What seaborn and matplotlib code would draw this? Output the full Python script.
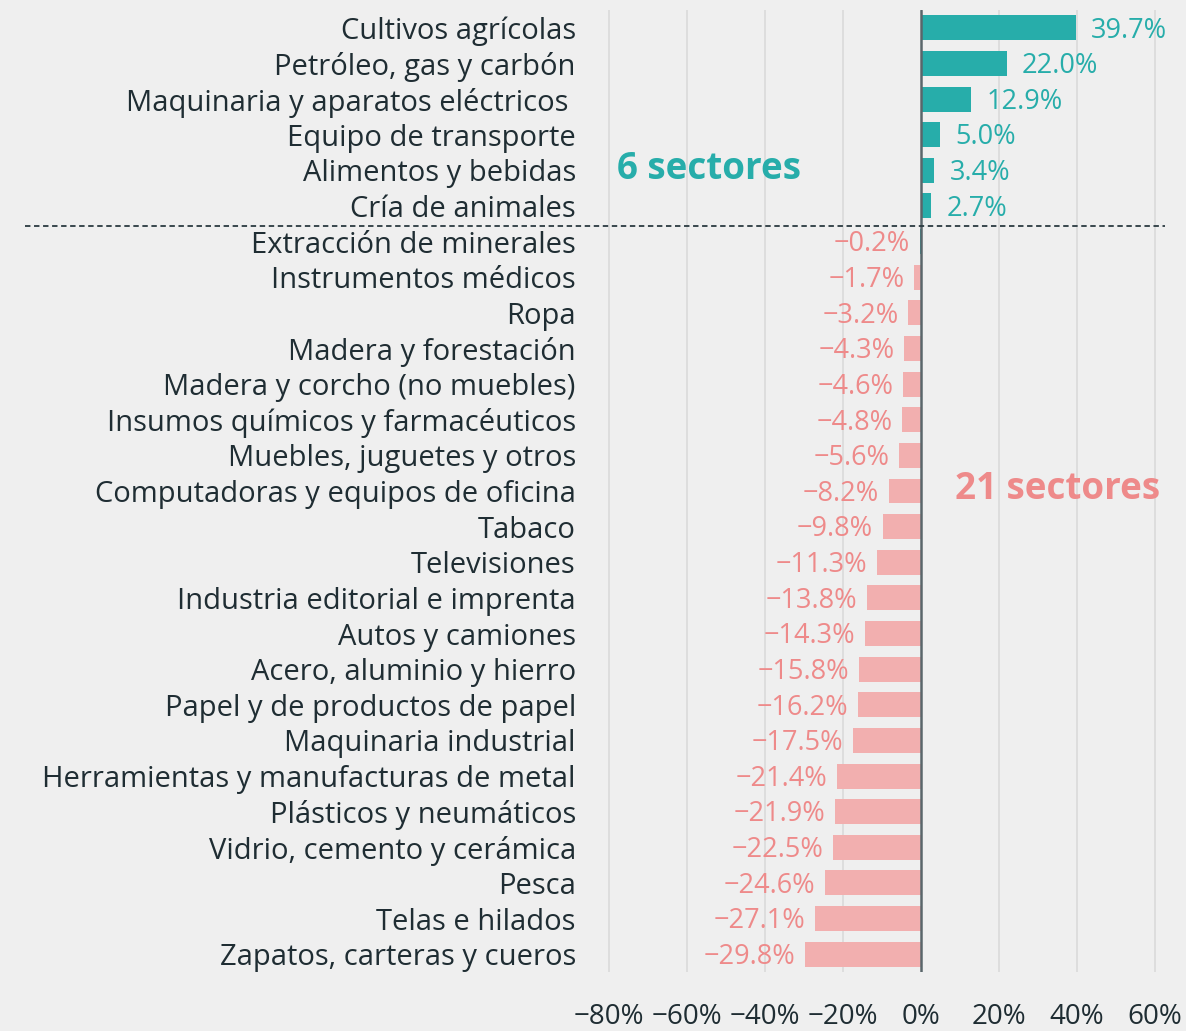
import matplotlib
matplotlib.use("Agg")
import matplotlib.pyplot as plt
import matplotlib.transforms as mtransforms
from matplotlib.lines import Line2D
import seaborn as sns
import pandas as pd

categories = [
    "Cultivos agrícolas", "Petróleo, gas y carbón", "Maquinaria y aparatos eléctricos ",
    "Equipo de transporte", "Alimentos y bebidas", "Cría de animales",
    "Extracción de minerales", "Instrumentos médicos", "Ropa", "Madera y forestación",
    "Madera y corcho (no muebles)", "Insumos químicos y farmacéuticos",
    "Muebles, juguetes y otros", "Computadoras y equipos de oficina", "Tabaco",
    "Televisiones", "Industria editorial e imprenta", "Autos y camiones",
    "Acero, aluminio y hierro", "Papel y de productos de papel", "Maquinaria industrial",
    "Herramientas y manufacturas de metal", "Plásticos y neumáticos",
    "Vidrio, cemento y cerámica", "Pesca", "Telas e hilados", "Zapatos, carteras y cueros",
]
values = [39.7, 22.0, 12.9, 5.0, 3.4, 2.7, -0.2, -1.7, -3.2, -4.3, -4.6, -4.8, -5.6,
          -8.2, -9.8, -11.3, -13.8, -14.3, -15.8, -16.2, -17.5, -21.4, -21.9, -22.5,
          -24.6, -27.1, -29.8]
bar_group = ["pos"] * 7 + ["neg"] * 20
x_ticks = [-80, -60, -40, -20, 0, 20, 40, 60]

TEAL = "#27ADAA"
PINK_BAR = "#F2AFAF"
PINK_TXT = "#EE8A8A"
DARK = "#1F2D33"
BG = "#EFEFEF"

sns.set_theme(style="white")
plt.rcParams["font.family"] = ["Open Sans", "DejaVu Sans"]


def pct(v, fmt):
    s = format(v, fmt) + "%"
    return s.replace("-", "\u2212")


df = pd.DataFrame({"cat": categories, "val": values, "grp": bar_group})

fig = plt.figure(figsize=(11.86, 10.31), dpi=100, facecolor=BG)
ax = fig.add_axes([605 / 1186, 1 - 972 / 1031, (1186 - 605) / 1186, 962 / 1031])
ax.set_facecolor(BG)

sns.barplot(data=df, x="val", y="cat", hue="grp", palette={"pos": TEAL, "neg": PINK_BAR},
            dodge=False, width=0.7, legend=False, ax=ax, orient="h", saturation=1,
            linewidth=0)

ax.set_xlim(-81, 68)
ax.set_ylim(26.5, -0.5)
ax.set_xticks(x_ticks)
ax.set_xticklabels([pct(t, "d") for t in x_ticks])
for x in x_ticks:
    if x != 0:
        ax.axvline(x, color="#DCDCDC", lw=1.3, zorder=0)
ax.axvline(0, color="#5A666B", lw=1.8, zorder=3)

for s in ax.spines.values():
    s.set_visible(False)
ax.set_xlabel("")
ax.set_ylabel("")
ax.tick_params(axis="y", length=0, pad=21, labelsize=21, labelcolor=DARK)
ax.tick_params(axis="x", length=0, pad=22, labelsize=20, labelcolor=DARK)

for i, v in enumerate(values):
    if v >= 0:
        ax.annotate(pct(v, ".1f"), (v, i), xytext=(11, -2), textcoords="offset points",
                    ha="left", va="center", fontsize=19.5, color=TEAL)
    else:
        ax.annotate(pct(v, ".1f"), (v, i), xytext=(-7, -2), textcoords="offset points",
                    ha="right", va="center", fontsize=19.5, color=PINK_TXT)

ax.text(-54.4, 3.95, "6 sectores", fontsize=26.5, fontweight="bold", color=TEAL,
        ha="center", va="center")
ax.text(35.1, 12.95, "21 sectores", fontsize=26.5, fontweight="bold", color=PINK_TXT,
        ha="center", va="center")

trans = mtransforms.blended_transform_factory(fig.transFigure, ax.transData)
fig.add_artist(Line2D([25 / 1186, 1165 / 1186], [5.55, 5.55], transform=trans,
                      color="#2A3A40", lw=1.3, ls=(0, (3, 2))))

fig.savefig("out.png", dpi=100, facecolor=BG)
